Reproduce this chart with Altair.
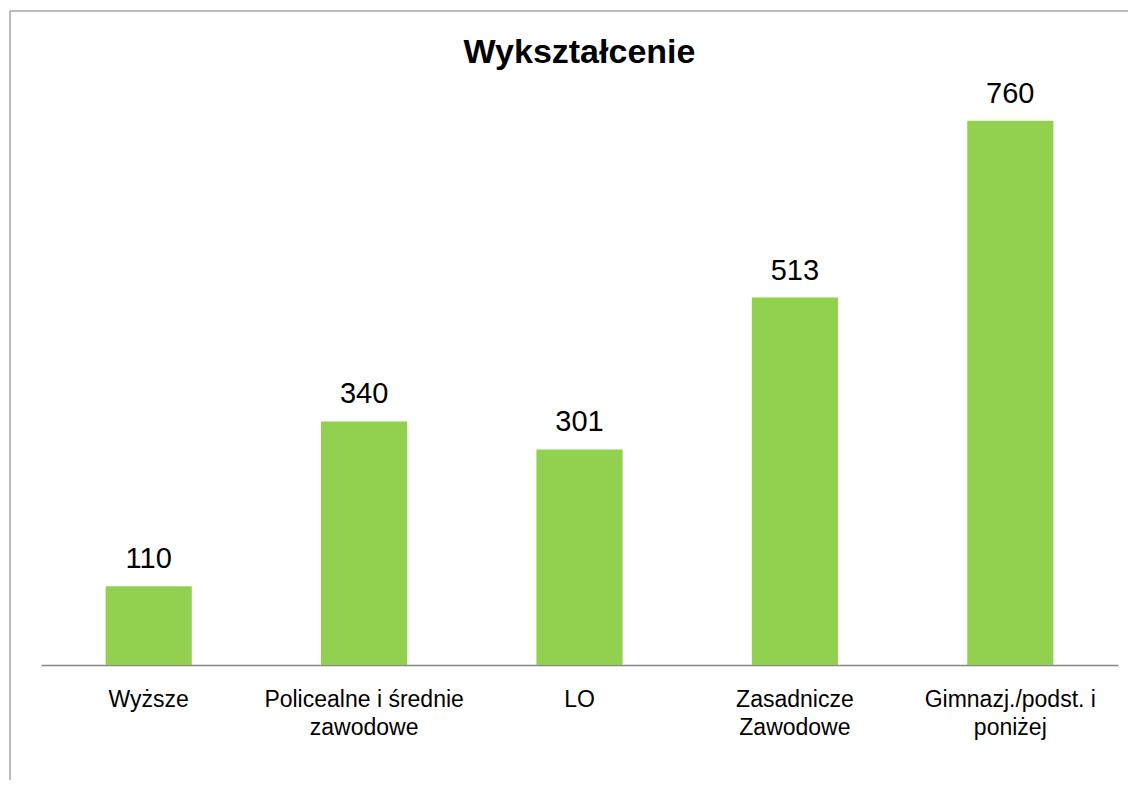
import altair as alt
import pandas as pd

categories = [
    "Wyższe",
    "Policealne i średnie\nzawodowe",
    "LO",
    "Zasadnicze\nZawodowe",
    "Gimnazj./podst. i\nponiżej",
]
values = [110, 340, 301, 513, 760]
title_text = "Wykształcenie"

FONT = "Liberation Sans, Arial, sans-serif"
W, H = 1077, 573

df = pd.DataFrame({"cat": categories, "val": values})

base = alt.Chart(df)

bars = base.mark_bar(color="#92D050").encode(
    x=alt.X(
        "cat:N",
        sort=None,
        title=None,
        scale=alt.Scale(paddingInner=0.6, paddingOuter=0.3),
        axis=alt.Axis(
            labelAngle=0,
            labelFont=FONT,
            labelFontSize=23,
            labelColor="#000000",
            labelBaseline="top",
            labelPadding=23,
            labelLineHeight=28,
            labelLimit=400,
            labelExpr="split(datum.label, '\\n')",
            ticks=False,
            tickSize=0,
            domainColor="#868686",
            domainWidth=1.5,
            grid=False,
        ),
    ),
    y=alt.Y("val:Q", scale=alt.Scale(domain=[0, 800], nice=False), axis=None),
)

labels = base.mark_text(
    font=FONT, fontSize=29, color="#000000", baseline="alphabetic", dy=-18
).encode(
    x=alt.X("cat:N", sort=None),
    y=alt.Y("val:Q"),
    text=alt.Text("val:Q"),
)

one = alt.Data(values=[{"t": title_text}])

title = alt.Chart(one).mark_text(
    font=FONT, fontSize=34, fontWeight="bold", color="#000000",
    baseline="alphabetic", align="center"
).encode(
    x=alt.value(W / 2), y=alt.value(-29), text="t:N"
)

left_border = alt.Chart(one).mark_rule(color="#a6a6a6", strokeWidth=1.5).encode(
    x=alt.value(-31), y=alt.value(-81), y2=alt.value(H + 120)
)
top_border = alt.Chart(one).mark_rule(color="#a6a6a6", strokeWidth=1.5).encode(
    x=alt.value(-31), x2=alt.value(W + 20), y=alt.value(-81)
)

chart = alt.layer(bars, labels, title, left_border, top_border).properties(
    width=W,
    height=H,
    padding={"left": 33, "top": 84, "right": 10, "bottom": 115},
    autosize=alt.AutoSizeParams(type="none"),
    background="#ffffff",
).configure_view(stroke=None)

chart.save("out.html", embed_options={"renderer": "svg", "actions": False})
